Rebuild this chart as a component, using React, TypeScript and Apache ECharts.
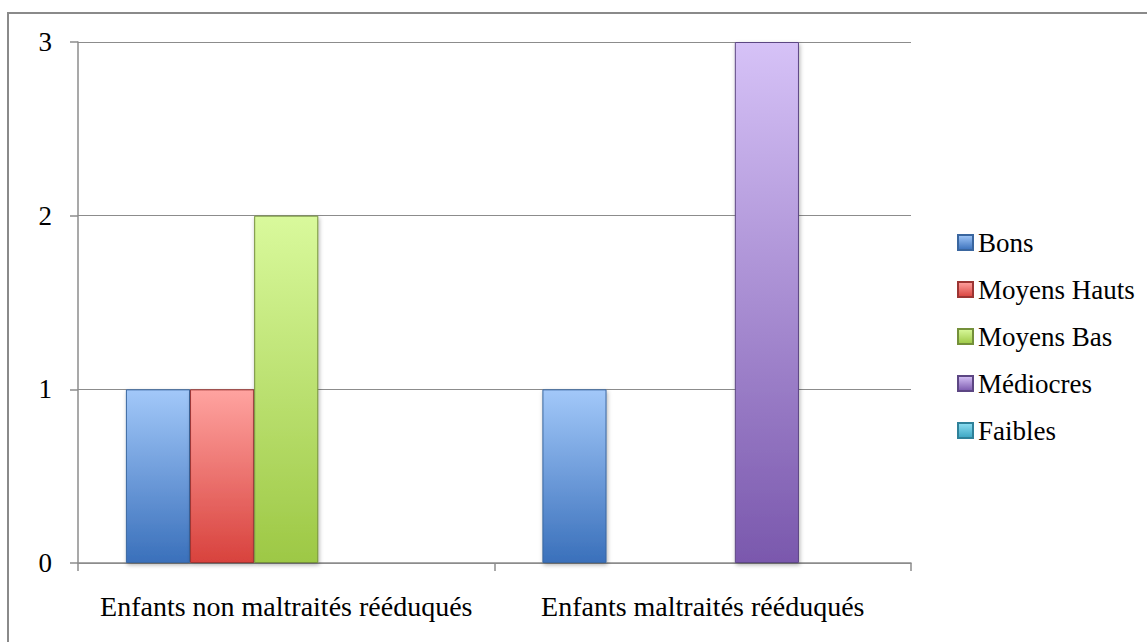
import React, { useEffect, useRef } from "react";
import * as echarts from "echarts";

const categories = ["Enfants non maltraités rééduqués", "Enfants maltraités rééduqués"];
const seriesNames = ["Bons", "Moyens Hauts", "Moyens Bas", "Médiocres", "Faibles"];
const bons = [1, 1];
const moyensHauts = [1, 0];
const moyensBas = [2, 0];
const mediocres = [0, 3];
const faibles = [0, 0];
const yTicks = [0, 1, 2, 3];

const palette = [
  { top: "#a2c8f9", bottom: "#3a70bb", border: "#3a669f" },
  { top: "#ffa3a0", bottom: "#d8423d", border: "#9c3533" },
  { top: "#d9f99c", bottom: "#9dc845", border: "#74903a" },
  { top: "#d6c2f7", bottom: "#7a58ad", border: "#5c4683" },
  { top: "#8fdff2", bottom: "#3ba5c2", border: "#2f8199" },
];

const FONT = "Liberation Serif";

export default function App() {
  const ref = useRef<HTMLDivElement>(null);
  useEffect(() => {
    if (!ref.current) return;
    const chart = echarts.init(ref.current, undefined, { renderer: "svg" });
    const allValues = [bons, moyensHauts, moyensBas, mediocres, faibles];
    const series = seriesNames.map((name, i) => ({
      name,
      type: "bar",
      barGap: "0%",
      barCategoryGap: "23%",
      data: allValues[i].map((v) => (v === 0 ? "-" : v)),
      itemStyle: {
        color: new echarts.graphic.LinearGradient(0, 0, 0, 1, [
          { offset: 0, color: palette[i].top },
          { offset: 1, color: palette[i].bottom },
        ]),
        borderColor: palette[i].border,
        borderWidth: 1,
        shadowColor: "rgba(0,0,0,0.3)",
        shadowBlur: 4,
        shadowOffsetX: 1,
        shadowOffsetY: 2,
      },
    }));
    chart.setOption({
      animation: false,
      backgroundColor: "#ffffff",
      graphic: [
        {
          type: "rect",
          shape: { x: 8, y: 13, width: 1300, height: 800 },
          style: { fill: "none", stroke: "#8a8a8a", lineWidth: 2 },
          silent: true,
        },
      ],
      grid: { left: 78, right: 236, top: 42, bottom: 79 },
      legend: {
        orient: "vertical",
        left: 952,
        top: 224,
        itemWidth: 15,
        itemHeight: 15,
        itemGap: 20,
        itemTextGap: 6,
        icon: "rect",
        data: seriesNames,
        textStyle: { fontFamily: FONT, fontSize: 27, color: "#000", lineHeight: 27 },
      },
      xAxis: {
        type: "category",
        data: categories,
        axisLine: { lineStyle: { color: "#8c8c8c", width: 1.5 } },
        axisTick: { show: true, length: 8, lineStyle: { color: "#8c8c8c", width: 1.5 } },
        axisLabel: {
          interval: 0,
          hideOverlap: false,
          fontFamily: FONT,
          fontSize: 28,
          color: "#000",
          margin: 29,
        },
      },
      yAxis: {
        type: "value",
        min: yTicks[0],
        max: yTicks[yTicks.length - 1],
        interval: 1,
        axisLine: { show: true, lineStyle: { color: "#8c8c8c", width: 1.5 } },
        axisTick: { show: true, length: 8, lineStyle: { color: "#8c8c8c", width: 1.5 } },
        splitLine: { lineStyle: { color: "#8c8c8c", width: 1.2 } },
        axisLabel: { fontFamily: FONT, fontSize: 27, color: "#000", margin: 26 },
      },
      series,
    });
    return () => chart.dispose();
  }, []);
  return (
    <div
      ref={ref}
      style={{ position: "absolute", left: 0, top: 0, width: 1147, height: 642 }}
    />
  );
}
